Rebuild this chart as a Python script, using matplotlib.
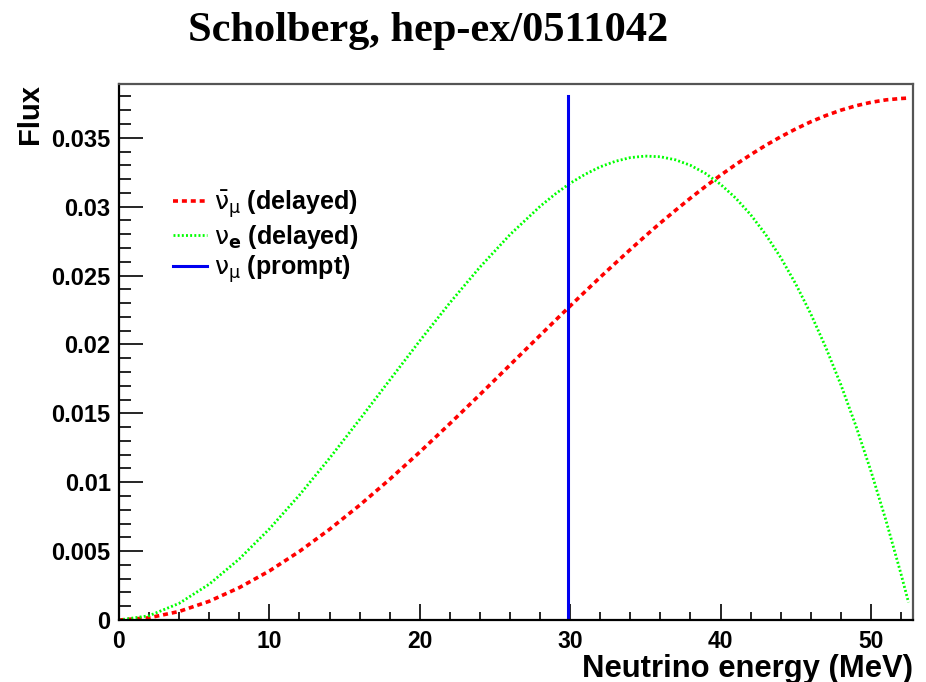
import matplotlib
matplotlib.use("Agg")
import matplotlib.pyplot as plt
from matplotlib.ticker import MultipleLocator

plt.rcParams['lines.scale_dashes'] = False
plt.rcParams['font.family'] = ['Liberation Sans', 'DejaVu Sans']

# values
energy = [0, 2, 4, 6, 8, 10, 12, 14, 16, 18, 20, 22, 24, 26, 28, 29, 30,
          31, 32, 33, 34, 35, 36, 37, 38, 39, 40, 41, 42, 43, 44, 45, 46,
          47, 48, 49, 50, 51, 52, 52.5]
flux_numubar = [0.0, 0.00016, 0.00062, 0.00136, 0.00235, 0.00356, 0.00498,
                0.00658, 0.00833, 0.01021, 0.01219, 0.01425, 0.01636,
                0.01851, 0.02066, 0.02173, 0.02279, 0.02384, 0.02488,
                0.02589, 0.02689, 0.02787, 0.02882, 0.02973, 0.03062,
                0.03147, 0.03228, 0.03305, 0.03377, 0.03445, 0.03507,
                0.03564, 0.03616, 0.03661, 0.03700, 0.03732, 0.03757,
                0.03775, 0.03785, 0.03788]
flux_nue = [0.0, 0.00031, 0.00121, 0.00260, 0.00443, 0.00661, 0.00907,
            0.01174, 0.01455, 0.01741, 0.02026, 0.02302, 0.02561,
            0.02797, 0.03002, 0.03091, 0.03170, 0.03235, 0.03289,
            0.03329, 0.03356, 0.03367, 0.03362, 0.03340, 0.03300,
            0.03241, 0.03162, 0.03063, 0.02942, 0.02798, 0.02631,
            0.02439, 0.02222, 0.01978, 0.01708, 0.01409, 0.01081,
            0.00723, 0.00334, 0.00128]
prompt_energy = 29.85
prompt_top = 0.0380

fig = plt.figure(figsize=(9.26, 6.82), dpi=100)
ax = fig.add_axes([0.1285, 0.0909, 0.8575, 0.7859])

ax.plot(energy, flux_numubar, color='#ff0000', lw=2.6, dashes=(3.6, 2.8),
        label=r'$\mathrm{\bar{\nu}_{\mu}}$ (delayed)')
ax.plot(energy, flux_nue, color='#00ff00', lw=2.0, dashes=(1.4, 1.6),
        label=r'$\mathrm{\nu}_{\mathbf{e}}$ (delayed)')
ax.plot([prompt_energy, prompt_energy], [0, prompt_top], color='#0000f0',
        lw=2.2, label=r'$\mathrm{\nu_{\mu}}$ (prompt)')

ax.set_xlim(0, 52.8)
ax.set_ylim(0, 0.0389)
ax.xaxis.set_major_locator(MultipleLocator(10))
ax.xaxis.set_minor_locator(MultipleLocator(2))
ax.yaxis.set_major_locator(MultipleLocator(0.005))
ax.yaxis.set_minor_locator(MultipleLocator(0.001))
ax.yaxis.set_major_formatter(plt.FuncFormatter(lambda v, p: ('%g' % round(v, 4))))
ax.xaxis.set_major_formatter(plt.FuncFormatter(lambda v, p: '%g' % v))

ax.tick_params(axis='y', which='major', direction='in', length=17, width=1.2,
               labelsize=17, pad=6)
ax.tick_params(axis='y', which='minor', direction='in', length=8.6, width=1.2)
ax.tick_params(axis='x', which='major', direction='in', length=11.5, width=1.2,
               labelsize=16.5, pad=7)
ax.tick_params(axis='x', which='minor', direction='in', length=5.8, width=1.2)
for lab in ax.get_xticklabels() + ax.get_yticklabels():
    lab.set_fontweight('bold')

for side in ['left', 'bottom']:
    ax.spines[side].set_linewidth(1.6)
for side in ['top', 'right']:
    ax.spines[side].set_linewidth(1.6)
    ax.spines[side].set_color('#555555')

ax.set_xlabel('Neutrino energy (MeV)', fontsize=22.3, fontweight='bold',
              loc='right')
ax.xaxis.set_label_coords(1.0, -0.063)
ax.set_ylabel('Flux', fontsize=21, fontweight='bold', loc='top')
ax.yaxis.set_label_coords(-0.094, 1.0)

ax.legend(loc='upper left', bbox_to_anchor=(0.068, 0.806), frameon=False,
          prop={'size': 18, 'weight': 'bold'}, handlelength=1.36,
          handletextpad=0.3, labelspacing=0.12, borderaxespad=0,
          borderpad=0)

fig.text(0.462, 0.955, 'Scholberg, hep-ex/0511042', ha='center', va='center',
         fontsize=30.5, fontweight='bold', family='Liberation Serif')

fig.savefig('out.png', dpi=100)
